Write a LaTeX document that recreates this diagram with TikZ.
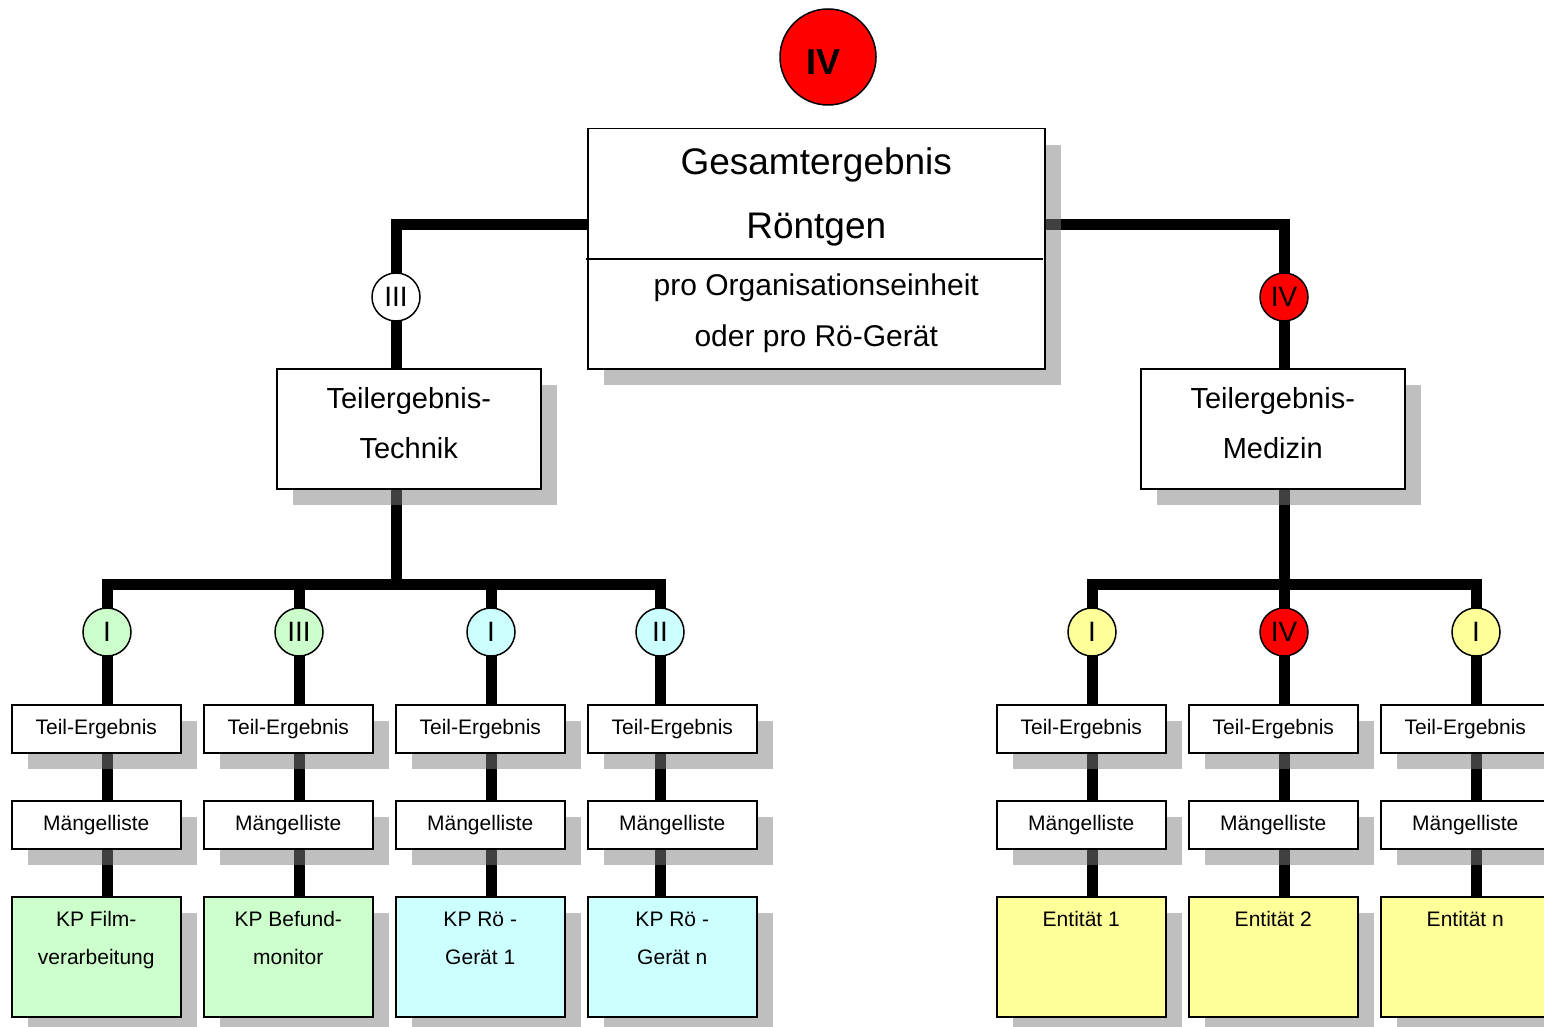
\documentclass[tikz,border=0pt]{standalone}
\usepackage{fontspec}
\setmainfont{Liberation Sans}
\usetikzlibrary{shadows}
\pgfdeclarelayer{lines}
\pgfsetlayers{lines,main}
\definecolor{kgreen}{HTML}{CCFFCC}
\definecolor{kcyan}{HTML}{CCFFFF}
\definecolor{kyellow}{HTML}{FFFF99}
\definecolor{kred}{HTML}{FF0000}
\begin{document}
\begin{tikzpicture}[x=1pt,y=-1pt,
  box/.style={draw, line width=1.5pt, fill=white, inner sep=0pt, anchor=north west,
    drop shadow={shadow xshift=16pt, shadow yshift=-16pt, opacity=0.5, fill=black!50, draw=none}},
  smallbox/.style={box, minimum width=169pt, minimum height=48pt, font=\fontsize{21}{21}\selectfont},
  kpbox/.style={box, minimum width=169pt, minimum height=120pt},
  kptext/.style={anchor=north, align=center, inner sep=0pt, font=\fontsize{21}{38}\selectfont},
  midbox/.style={box, minimum width=264pt, minimum height=120pt, align=center, text depth=12pt, font=\fontsize{29}{50}\selectfont},
  conn/.style={line width=11pt, line join=miter},
  rc/.style={circle, draw, line width=1.5pt, minimum size=48pt, inner sep=0pt, font=\fontsize{28}{28}\selectfont},
]
\useasboundingbox (0,0) rectangle (1544,1027);

% top status
\node[circle, draw, line width=1.5pt, fill=kred, minimum size=96pt, inner sep=0pt,
  text height=36pt, text depth=0pt,
  font=\bfseries\fontsize{36}{36}\selectfont] (top) at (828,57) {\hspace*{-10pt}IV};

% main box
\node[box, minimum width=457pt, minimum height=240pt] (main) at (587,128) {};
\node[anchor=center, align=center, inner sep=0pt, font=\fontsize{37}{64}\selectfont]
  (title) at ([yshift=-69pt]main.north) {Gesamtergebnis\\Röntgen};
\node[anchor=center, align=center, inner sep=0pt, font=\fontsize{30}{51}\selectfont]
  (sub) at ([yshift=-185.5pt]main.north) {pro Organisationseinheit\\oder pro Rö-Gerät};
\draw[line width=1.5pt] ([xshift=-1pt,yshift=-131pt]main.north west) -- ([xshift=-3pt,yshift=-131pt]main.north east);

% second level
\node[midbox] (tech) at (276,368) {Teilergebnis-\\Technik};
\node[midbox] (med) at (1140,368) {Teilergebnis-\\Medizin};
\node[rc, fill=white] (ct) at (396,297) {III};
\node[rc, fill=kred] (cm) at (1284,297) {IV};

% columns
\foreach \bx/\lx/\col/\bcol/\num/\txt [count=\i] in {
  11/107/kgreen/kgreen/I/{KP Film-\\verarbeitung},
  203/299/kgreen/kgreen/III/{KP Befund-\\monitor},
  395/491/kcyan/kcyan/I/{KP Rö -\\Gerät 1},
  587/660/kcyan/kcyan/II/{KP Rö -\\Gerät n},
  996/1092/kyellow/kyellow/I/{Entität 1},
  1188/1284/kred/kyellow/IV/{Entität 2},
  1380/1476/kyellow/kyellow/I/{Entität n}} {
  \node[rc, fill=\col] (c\i) at (\lx,632) {\num};
  \node[smallbox] (te\i) at (\bx,704) {Teil-Ergebnis};
  \node[smallbox] (ml\i) at (\bx,800) {Mängelliste};
  \node[kpbox, fill=\bcol] (kp\i) at (\bx,896) {};
  \node[kptext] (kt\i) at ([yshift=-15.5pt]kp\i.north) {\txt};
}

\coordinate (busL) at (396,584.5);
\coordinate (busR) at (1284,584.5);

\begin{pgfonlayer}{lines}
  \draw[conn] ([yshift=-96pt]main.north west) -| (tech.north -| ct);
  \draw[conn] ([yshift=-96pt]main.north east) -| (med.north -| cm);
  \draw[conn] (tech.south -| busL) -- (busL);
  \draw[conn] (med.south -| busR) -- (busR);
  \foreach \i in {1,2,3,4} { \draw[conn] (busL) -| (te\i.north -| c\i); }
  \foreach \i in {5,6,7} { \draw[conn] (busR) -| (te\i.north -| c\i); }
  \foreach \i in {1,...,7} {
    \draw[conn] (te\i.south -| c\i) -- (ml\i.north -| c\i);
    \draw[conn] (ml\i.south -| c\i) -- (kp\i.north -| c\i);
  }
\end{pgfonlayer}
\end{tikzpicture}
\end{document}
